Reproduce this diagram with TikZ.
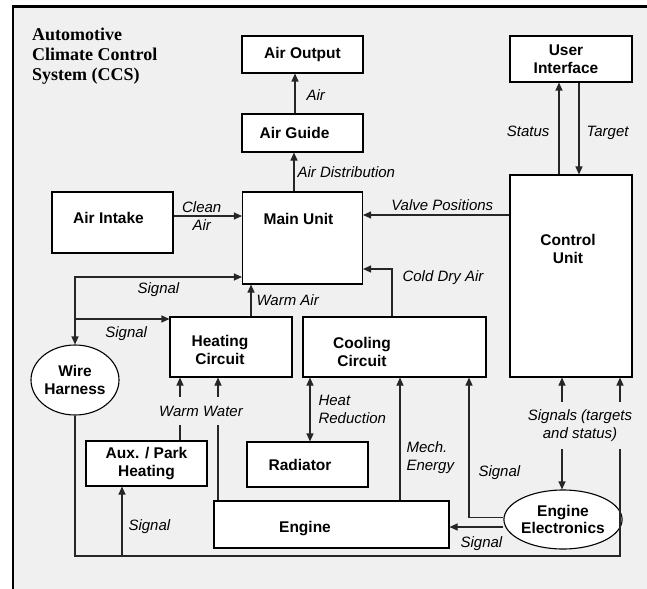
\documentclass[tikz,border=0pt]{standalone}
\usepackage{fontspec}
\setmainfont{Liberation Serif}
\setsansfont{Liberation Sans}
\usetikzlibrary{arrows.meta,positioning,shapes.geometric}

\definecolor{ccsgray}{RGB}{240,240,240}
\newcommand{\ccsbig}{\fontsize{15.5bp}{17.5bp}\selectfont}
\newcommand{\ccssmall}{\fontsize{15bp}{17.5bp}\selectfont}
\newcommand{\ccstitle}{\fontsize{18bp}{20bp}\selectfont}

\tikzset{
  block/.style={draw, fill=white, line width=1.1bp, inner sep=0pt, align=center, font=\sffamily\bfseries\ccsbig},
  oval/.style={block, ellipse},
  blocktext/.style={inner sep=0pt, align=center, font=\sffamily\bfseries\ccsbig},
  lab/.style={inner sep=2bp, align=center, font=\sffamily\itshape\ccssmall},
  flow/.style={line width=1.1bp, draw=black!85},
}

\begin{document}
\begin{tikzpicture}[x=1bp, y=-1bp, >={Triangle[length=8bp,width=7bp]}]
    \useasboundingbox (0,0) rectangle (647,589);
    \fill [white] (0,0) rectangle (647,589);
    \clip (0,0) rectangle (647,589);
    % Frame and title
    \draw [fill=ccsgray, line width=2.5bp] (13.2,6.7) rectangle (660,600);
    \node [anchor=north west, inner sep=0pt, align=left, font=\rmfamily\bfseries\ccstitle] (title) at (32,27.5) {Automotive\\Climate Control\\System (CCS)};

    % Blocks
    \node [block, minimum width=121bp, minimum height=37bp] (airoutput) at (302.5,54.5) {Air Output};
    \node [block, minimum width=121bp, minimum height=38bp, node distance=78.5bp,
           label={[blocktext, xshift=-8bp]center:Air Guide}] (airguide) [below of=airoutput] {};
    \node [block, minimum width=120bp, minimum height=92bp, node distance=105bp,
           label={[blocktext, xshift=-4bp, yshift=19bp]center:Main Unit}] (mainunit) [below of=airguide] {};
    \node [block, minimum width=121bp, minimum height=61bp,
           label={[blocktext, xshift=-4bp, yshift=4.5bp]center:Air Intake}] (airintake) at (112.5,222.5) {};
    \node [block, minimum width=122bp, minimum height=46bp,
           label={[blocktext, xshift=-5bp]center:User\\Interface}] (userif) at (571,59) {};
    \node [block, minimum width=122bp, minimum height=202bp, node distance=217bp,
           label={[blocktext, xshift=-3bp, yshift=27bp]center:Control\\Unit}] (controlunit) [below of=userif] {};
    \node [block, minimum width=122bp, minimum height=60bp,
           label={[blocktext, xshift=-11bp, yshift=-3bp]center:Heating\\Circuit}] (heating) at (231,347) {};
    \node [block, minimum width=183bp, minimum height=60bp, node distance=163.5bp,
           label={[blocktext, xshift=-32.5bp, yshift=-5bp]center:Cooling\\Circuit}] (cooling) [right of=heating] {};
    \node [oval, minimum width=88bp, minimum height=70bp] (wireharness) at (75,380) {Wire\\Harness};
    \node [block, minimum width=121bp, minimum height=45bp] (auxheat) at (146.5,463.5) {Aux. / Park\\Heating};
    \node [block, minimum width=121bp, minimum height=45bp,
           label={[blocktext, xshift=-7.5bp]center:Radiator}] (radiator) at (307.5,464.5) {};
    \node [block, minimum width=235bp, minimum height=47bp,
           label={[blocktext, xshift=-26.5bp, yshift=-4.5bp]center:Engine}] (engine) at (331.5,524.5) {};
    \node [oval, minimum width=104bp, minimum height=59bp] (eecu) at (563,519.5) {Engine\\Electronics};

    % Labels that break their lines
    \node [lab, minimum height=28bp, inner ysep=0pt] (warmwater) at (201,411) {Warm Water};
    \node [lab, minimum height=47bp, inner ysep=0pt] (signals) at (580,425.5) {Signals (targets\\and status)};

    % Fixed points
    \coordinate (busL)   at (75,556);
    \coordinate (heatin) at ([yshift=28bp]heating.west);
    \coordinate (ww1)    at ([xshift=-51bp]heating.south);
    \coordinate (ww2)    at ([xshift=-13bp]heating.south);
    \coordinate (coolsig) at ([xshift=74.5bp]cooling.south);
    \coordinate (cusig1) at ([xshift=-9bp]controlunit.south);
    \coordinate (cusig2) at ([xshift=49bp]controlunit.south);
    \coordinate (auxsig) at ([xshift=-24.5bp]auxheat.south);

    % Air path
    \draw [->, flow] ([xshift=-7.5bp]airguide.north) -- node [lab, right=9bp, yshift=-1.5bp] (lair) {Air} ([xshift=-7.5bp]airoutput.south);
    \draw [->, flow] ([xshift=-8.5bp]mainunit.north) -- node [lab, right=1bp] (ldist) {Air Distribution} ([xshift=-8.5bp]mainunit.north |- airguide.south);
    \draw [->, flow] ([yshift=6.5bp]airintake.east) -- node [lab, xshift=-6bp] (lclean) {Clean\\Air} ([yshift=6.5bp]airintake.east -| mainunit.west);
    \draw [->, flow] ([yshift=61bp]controlunit.west) -- node [lab, above=2bp, xshift=6bp] (lvalve) {Valve Positions} ([yshift=61bp]controlunit.west -| mainunit.east);
    \draw [->, flow] ([xshift=-2.5bp]cooling.north) |- node [lab, pos=0.41, right=8bp] (lcold) {Cold Dry Air} ([yshift=-31bp]mainunit.east);
    \draw [->, flow] ([xshift=20bp]heating.north) -- node [lab, right=3bp] (lwarmair) {Warm Air} ([xshift=20bp]heating.north |- mainunit.south);

    % User interface
    \draw [->, flow] ([xshift=-12bp]controlunit.north) -- node [lab, left=7bp, yshift=-3bp] (lstatus) {Status} ([xshift=-12bp]controlunit.north |- userif.south);
    \draw [->, flow] ([xshift=8bp]controlunit.north |- userif.south) -- node [lab, right=5bp, yshift=-4.5bp] (ltarget) {Target} ([xshift=8bp]controlunit.north);

    % Signals
    \draw [<->, flow] ([yshift=-39bp]mainunit.west) -| node [lab, pos=0.25, below=3bp] (lsig1) {Signal} (wireharness.north);
    \draw [->, flow] (wireharness.north |- heatin) -- node [lab, below=5bp, xshift=4bp] (lsig2) {Signal} (heatin);
    \draw [flow] (wireharness.south) -- (busL) -| (cusig2 |- signals.south);
    \draw [->, flow] (cusig2 |- signals.north) -- (cusig2);
    \draw [->, flow] (cusig1 |- signals.north) -- (cusig1);
    \draw [->, flow] (cusig1 |- signals.south) -- (cusig1 |- eecu.north);
    \draw [->, flow] (auxsig |- busL) -- node [lab, right=4bp, yshift=-5bp] (lsig5) {Signal} (auxsig);
    \draw [->, flow] ([yshift=2bp]eecu.west) -| node [lab, pos=0.66, right=7bp] (lsig3) {Signal} (coolsig);
    \draw [->, flow] ([yshift=-2.5bp]engine.east -| eecu.west) -- node [lab, below=7.5bp, xshift=5bp] (lsig4) {Signal} ([yshift=-2.5bp]engine.east);

    % Water and energy
    \draw [flow] (ww1 |- auxheat.north) -- (ww1 |- warmwater.south);
    \draw [->, flow] (ww1 |- warmwater.north) -- (ww1);
    \draw [flow] (ww2 |- engine.north) -- (ww2 |- warmwater.south);
    \draw [->, flow] (ww2 |- warmwater.north) -- (ww2);
    \draw [<->, flow] ([xshift=-84.5bp]cooling.south) -- node [lab, right=6bp, align=left] (lheat) {Heat\\Reduction} ([xshift=-84.5bp]cooling.south |- radiator.north);
    \draw [->, flow] ([xshift=68.5bp]engine.north) -- node [lab, pos=0.35, right=4bp, align=left] (lmech) {Mech.\\Energy} ([xshift=68.5bp]engine.north |- cooling.south);
\end{tikzpicture}
\end{document}
